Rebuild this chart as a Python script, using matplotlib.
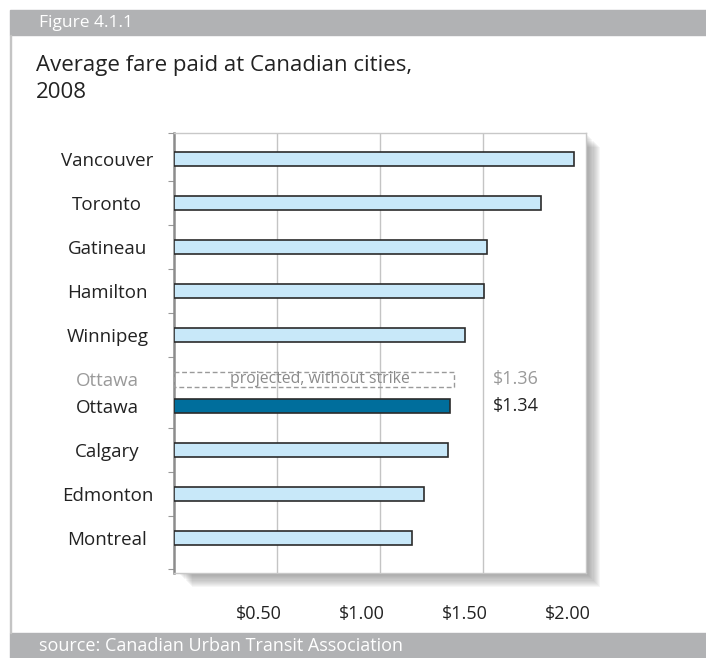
import numpy as np
import matplotlib.pyplot as plt
import matplotlib.transforms as mtrans
from matplotlib.patches import Rectangle

plt.rcParams['font.family'] = ['Open Sans', 'DejaVu Sans']

cities = ['Vancouver', 'Toronto', 'Gatineau', 'Hamilton', 'Winnipeg',
          'Ottawa', 'Calgary', 'Edmonton', 'Montreal']
fares = [1.94, 1.78, 1.52, 1.505, 1.415, 1.34, 1.33, 1.215, 1.155]
projected_label = 'Ottawa'
projected_fare = 1.36
projected_note = 'projected, without strike'
xticks = [0.5, 1.0, 1.5, 2.0]
xtick_labels = ['$0.50', '$1.00', '$1.50', '$2.00']

W, H = 706, 658
fig = plt.figure(figsize=(W / 100, H / 100), dpi=100)

def fx(px):
    return px / W

def fy(py):
    return 1 - py / H

banner = '#b1b2b4'
# page frame: banners and left rule
fig.patches.append(Rectangle((fx(10), fy(35)), fx(696), 25 / H, transform=fig.transFigure,
                             color=banner, zorder=0))
fig.patches.append(Rectangle((fx(10), 0), fx(696), 25 / H, transform=fig.transFigure,
                             color=banner, zorder=0))
fig.patches.append(Rectangle((fx(9.5), fy(633)), fx(1.5), 598 / H, transform=fig.transFigure,
                             color='#c4c4c4', zorder=0))
fig.text(fx(39), fy(23), 'Figure 4.1.1', color='white', fontsize=12.5, va='center')
fig.text(fx(39), fy(646), 'source: Canadian Urban Transit Association', color='white',
         fontsize=13, va='center')
fig.text(fx(36), fy(79), 'Average fare paid at Canadian cities,\n2008', color='#222222',
         fontsize=16, va='center', linespacing=1.38)

# axes placement
ax_l, ax_r, ax_t, ax_b = 174, 586, 133, 573
ax = fig.add_axes([fx(ax_l), fy(ax_b), fx(ax_r - ax_l), (ax_b - ax_t) / H], zorder=2)

# soft drop shadow on right / bottom
for i in range(12):
    off = 2 + i * 1.1
    fig.patches.append(Rectangle((fx(ax_l + off + 4), fy(ax_b + off)), fx(ax_r - ax_l - 4),
                                 (ax_b - ax_t) / H, transform=fig.transFigure,
                                 color='#555555', alpha=0.05, lw=0, zorder=1))

# row positions: Ottawa row carries the projected bar above it
ypos = np.array([0, 1, 2, 3, 4, 5.6, 6.6, 7.6, 8.6])
proj_y = 5.0
bar_h = 0.32

colors = ['#c8e8f9'] * len(cities)
colors[5] = '#006e9c'
ax.barh(ypos, fares, height=bar_h, color=colors, edgecolor='#2b2b2b', linewidth=1.2, zorder=3)
ax.barh([proj_y], [projected_fare], height=bar_h, fill=False, edgecolor='#9a9a9a',
        linestyle=(0, (3.5, 2)), linewidth=1.0, zorder=3)
ax.text(projected_fare / 2 + 0.03, proj_y, projected_note, ha='center', va='center',
        color='#8a8a8a', fontsize=11.3, zorder=4)
ax.text(1.55, proj_y, '$%.2f' % projected_fare, color='#9a9a9a', fontsize=13, va='center')
ax.text(1.55, ypos[5], '$%.2f' % fares[5], color='#222222', fontsize=13, va='center')

ax.set_xlim(0, 1.98)
ax.set_ylim(9.39, -0.59)

for g in xticks[:-1]:
    ax.axvline(g, color='#c4c4c4', lw=1.0, zorder=1)

ax.set_xticks(xticks)
ax.set_xticklabels(xtick_labels, fontsize=13, color='#222222')
ax.tick_params(axis='x', length=0, pad=23)
offset = mtrans.ScaledTranslation(-18 / 100, 0, fig.dpi_scale_trans)
for lab in ax.get_xticklabels():
    lab.set_transform(lab.get_transform() + offset)

# city labels
ylabels_pos = list(ypos) + [proj_y]
ylabels = list(cities) + [projected_label]
ax.set_yticks(ylabels_pos)
ax.set_yticklabels(ylabels, fontsize=13.5)
ax.tick_params(axis='y', length=0, pad=48)
for lab in ax.get_yticklabels():
    lab.set_horizontalalignment('center')
    lab.set_color('#222222')
ax.get_yticklabels()[-1].set_color('#9a9a9a')

# small separators on the left axis between rows
rows = [0, 1, 2, 3, 4, proj_y, 5.6, 6.6, 7.6, 8.6]
seps = [(a + b) / 2 for a, b in zip(rows[:-1], rows[1:]) if not (a == proj_y)]
seps = [-0.59] + seps + [9.3]
ax.set_yticks(seps, minor=True)
ax.tick_params(axis='y', which='minor', length=4, color='#999999', width=0.8, direction='out')

for s in ['top', 'right', 'bottom']:
    ax.spines[s].set_color('#c8c8c8')
    ax.spines[s].set_linewidth(1.0)
ax.spines['left'].set_color('#8c8c8c')
ax.spines['left'].set_linewidth(1.8)

fig.savefig('out.png', dpi=100)
